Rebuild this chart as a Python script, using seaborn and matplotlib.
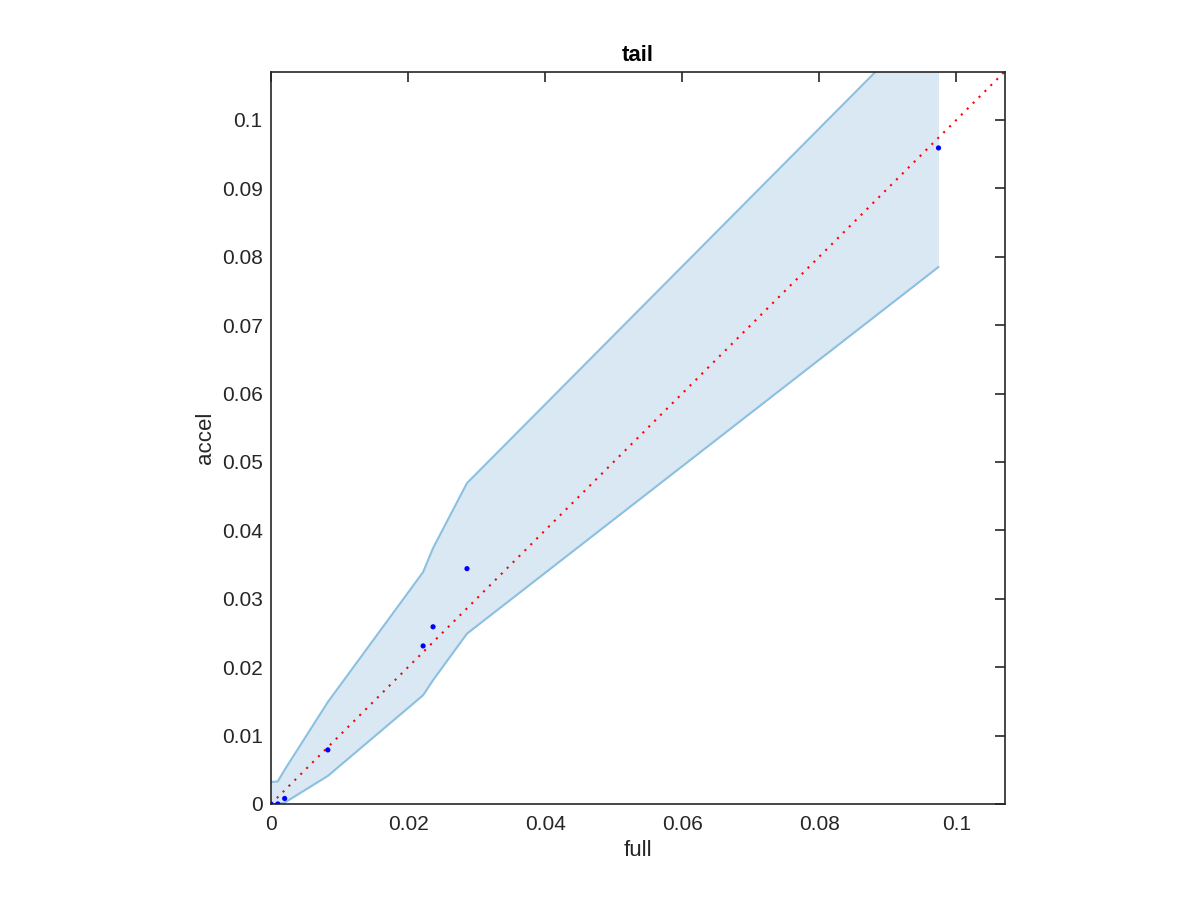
import matplotlib
matplotlib.use("Agg")
import matplotlib.pyplot as plt
import pandas as pd
import numpy as np
import seaborn as sns

sns.set_style("white")
plt.rcParams['font.family'] = ['Liberation Sans', 'DejaVu Sans']

# data
full = [0.0, 0.001, 0.002, 0.0083, 0.0222, 0.02365, 0.0286, 0.0974]
accel = [0.0, 0.0, 0.0008, 0.0079, 0.0231, 0.0259, 0.0344, 0.0959]
upper = [0.0032, 0.0033, 0.0050, 0.0149, 0.0339, 0.0374, 0.0469, 0.1163]
lower = [0.0, 0.0, 0.0002, 0.0041, 0.0159, 0.0181, 0.0249, 0.0785]
diag = [0.0, 0.107]

df = pd.DataFrame({'full': full, 'accel': accel, 'upper': upper, 'lower': lower})

fig = plt.figure(figsize=(12, 9), dpi=100)
ax = fig.add_axes([0.2258, 0.1067, 0.6117, 0.8133])

edge = '#8cc0e0'
ax.fill_between(df['full'], df['lower'], df['upper'], color='#dae8f3', linewidth=0)
sns.lineplot(data=df, x='full', y='upper', ax=ax, color=edge, linewidth=1.5, sort=False)
sns.lineplot(data=df, x='full', y='lower', ax=ax, color=edge, linewidth=1.5, sort=False)
sns.lineplot(x=diag, y=diag, ax=ax, color='red', linestyle=(0, (1, 3)), linewidth=1.5)
sns.scatterplot(data=df, x='full', y='accel', ax=ax, color='blue', s=14,
                edgecolor='none', zorder=5)

ax.set_xlim(0, 0.1071)
ax.set_ylim(0, 0.107)
ticks = [0, 0.02, 0.04, 0.06, 0.08, 0.1]
yticks = [0, 0.01, 0.02, 0.03, 0.04, 0.05, 0.06, 0.07, 0.08, 0.09, 0.1]
ax.set_xticks(ticks)
ax.set_xticklabels(['0', '0.02', '0.04', '0.06', '0.08', '0.1'])
ax.set_yticks(yticks)
ax.set_yticklabels(['0', '0.01', '0.02', '0.03', '0.04', '0.05', '0.06',
                    '0.07', '0.08', '0.09', '0.1'])
ax.tick_params(direction='in', length=7, width=1.2, top=True, right=True,
               labelsize=15, colors='#262626')
ax.tick_params(axis='x', pad=8)
ax.tick_params(axis='y', pad=6)
for sp in ax.spines.values():
    sp.set_color('#262626')
    sp.set_linewidth(1.2)

ax.set_xlabel('full', fontsize=16, color='#262626', labelpad=4)
ax.set_ylabel('accel', fontsize=16, color='#262626', labelpad=4)
ax.set_title('tail', fontsize=16, fontweight='bold', color='black', pad=8)

fig.savefig('out.png', dpi=100)
